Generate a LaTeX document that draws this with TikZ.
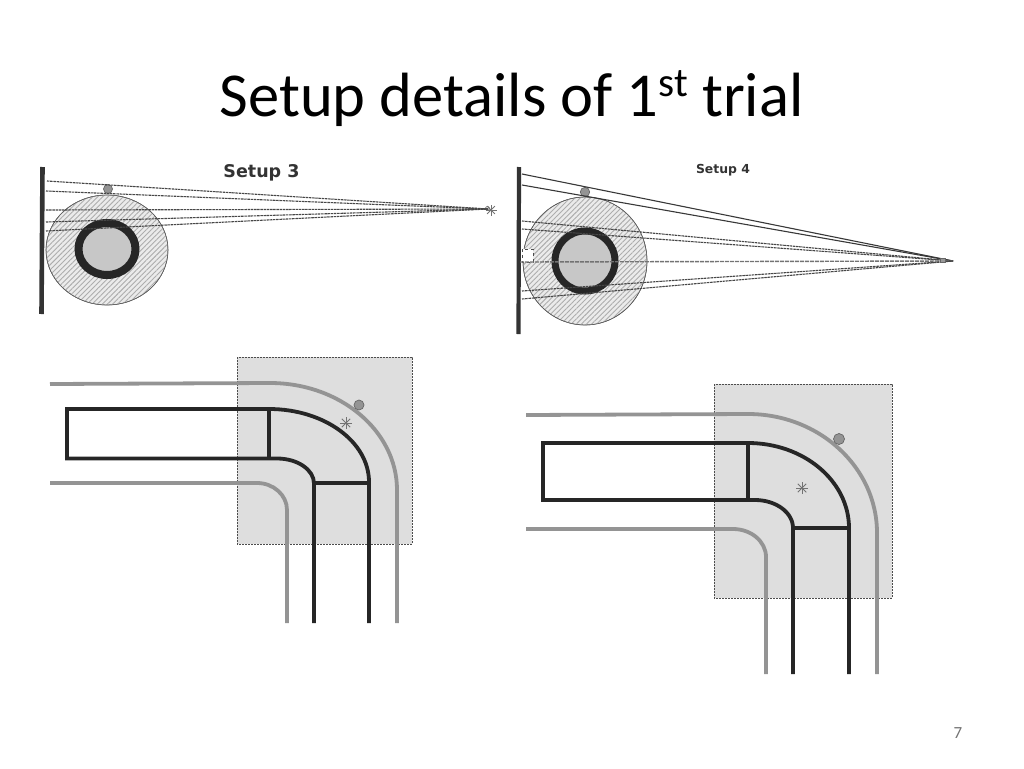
\documentclass[tikz,border=0pt]{standalone}
\usepackage{fontspec}
\setmainfont{Carlito}
\newfontfamily\labelfont{DejaVu Sans}
\usetikzlibrary{patterns.meta}
\tikzset{
  wall/.style={line width=4.6pt,color=black!80},
  disc/.style={draw=black!60,line width=0.6pt,pattern={Lines[angle=45,distance=3.6pt,line width=0.9pt]},pattern color=black!32},
  discback/.style={fill=black!8},
  ring/.style={draw=black!85,fill=black!22,line width=8pt},
  ball/.style={draw=black!60,fill=black!42,line width=0.7pt},
  ray/.style={dash pattern=on 2.5pt off 0.7pt,color=black!72,line width=1.1pt},
  beam/.style={color=black!78,line width=1.1pt},
  zone/.style={fill=black!13,draw=black!70,dash pattern=on 2pt off 1pt,line width=0.8pt},
  rail/.style={color=black!42,line width=3.8pt},
  track/.style={color=black!85,line width=3.8pt},
  spark/.style={color=black!55,line width=0.9pt},
  setup/.style={text=black!80}
}
\begin{document}
\begin{tikzpicture}[x=1pt,y=-1pt]
\useasboundingbox (0,0) rectangle (1024,768);

\node[font=\fontsize{62.5}{68}\selectfont,anchor=base] (title) at (511.5,116) {Setup details of 1\raisebox{20pt}{\fontsize{41}{44}\selectfont st} trial};
\node[setup,font=\labelfont\bfseries\fontsize{17.5}{20}\selectfont] (setupthree) at (261.5,172.5) {Setup 3};
\node[setup,font=\labelfont\bfseries\fontsize{12.4}{14}\selectfont] (setupfour) at (723,170) {Setup 4};
\node[text=black!55,font=\fontsize{17}{20}\selectfont] (pagenum) at (958,733) {7};

% setup 3
\draw[discback] (107,250) ellipse [x radius=61,y radius=55];
\draw[disc] (107,250) ellipse [x radius=61,y radius=55];
\draw[ring] (107,249) ellipse [x radius=28.5,y radius=26];
\draw[wall] (42.5,167) -- (41.5,314);
\draw[ball] (108,189) circle [radius=4.5];
\coordinate (focusa) at (488,209);
\draw[ray] (47,181) -- (focusa);
\draw[ray] (46,191) -- (focusa);
\draw[ray] (46,210) -- (focusa);
\draw[ray] (46,222) -- (focusa);
\draw[ray] (46,231) -- (focusa);
\draw[color=black!70,line width=0.6pt] (487.5,208.5) circle [radius=2];
\foreach \a in {0,45,90,135}
  \draw[spark] (491,210) ++(\a:5.5) -- ++(\a+180:11);

% setup 4
\draw[discback] (585,261) ellipse [x radius=62,y radius=64];
\draw[disc] (585,261) ellipse [x radius=62,y radius=64];
\draw[fill=white,draw=black!70,dashed,line width=0.5pt] (522,249) rectangle (533,262);
\draw[ring,line width=7pt] (585,261) circle [radius=30];
\draw[wall,line width=4.2pt] (519,167) -- (518.5,334);
\draw[ball] (585,192) circle [radius=4.7];
\coordinate (focusb) at (953,261);
\draw[beam] (522,174) -- (focusb);
\draw[beam] (522,185) -- (focusb);
\draw[ray] (522,221) -- (focusb);
\draw[ray] (522,229) -- (focusb);
\draw[ray,dash pattern=on 4pt off 1pt,color=black!55,line width=1.4pt] (520,262) -- (focusb);
\draw[ray] (522,291) -- (focusb);
\draw[ray] (522,299) -- (focusb);
\draw[fill=black!40,draw=black!60,line width=0.4pt] (940,258) rectangle (945,262);

% bend 1
\draw[zone] (237,357) rectangle (412,544);
\draw[rail] (50,384) -- (270,383) arc [start angle=-90,end angle=0,x radius=127,y radius=107] -- (397,623);
\draw[rail] (50,483) -- (257,483) arc [start angle=-90,end angle=0,x radius=30,y radius=27] -- (287,623);
\draw[track,line join=miter] (269,409) -- (67,409) -- (67,458.5) -- (277,458.5) arc [start angle=-90,end angle=0,x radius=37,y radius=25] -- (314,623);
\draw[track] (269,409) arc [start angle=-90,end angle=0,x radius=100,y radius=73] -- (369,623);
\draw[track] (269,409) -- (269,458.5);
\draw[track] (314,483) -- (369,483);
\draw[ball] (359,405) circle [radius=5];
\foreach \a in {0,45,90,135}
  \draw[spark] (346,423) ++(\a:6) -- ++(\a+180:12);

% bend 2
\draw[zone] (714,384) rectangle (892,598);
\draw[rail] (526,415) -- (748,414) arc [start angle=-90,end angle=0,x radius=129,y radius=119] -- (877,674);
\draw[rail] (526,529) -- (733,529) arc [start angle=-90,end angle=0,x radius=33,y radius=28] -- (766,674);
\draw[track,line join=miter] (748,443) -- (543,443) -- (543,500) -- (755,500) arc [start angle=-90,end angle=0,x radius=38,y radius=28] -- (793,674);
\draw[track] (748,443) arc [start angle=-90,end angle=0,x radius=101,y radius=85] -- (849,674);
\draw[track] (748,443) -- (748,500);
\draw[track] (793,528) -- (849,528);
\draw[ball] (839,439) circle [radius=5.5];
\foreach \a in {0,45,90,135}
  \draw[spark] (802,488) ++(\a:6) -- ++(\a+180:12);
\end{tikzpicture}
\end{document}
